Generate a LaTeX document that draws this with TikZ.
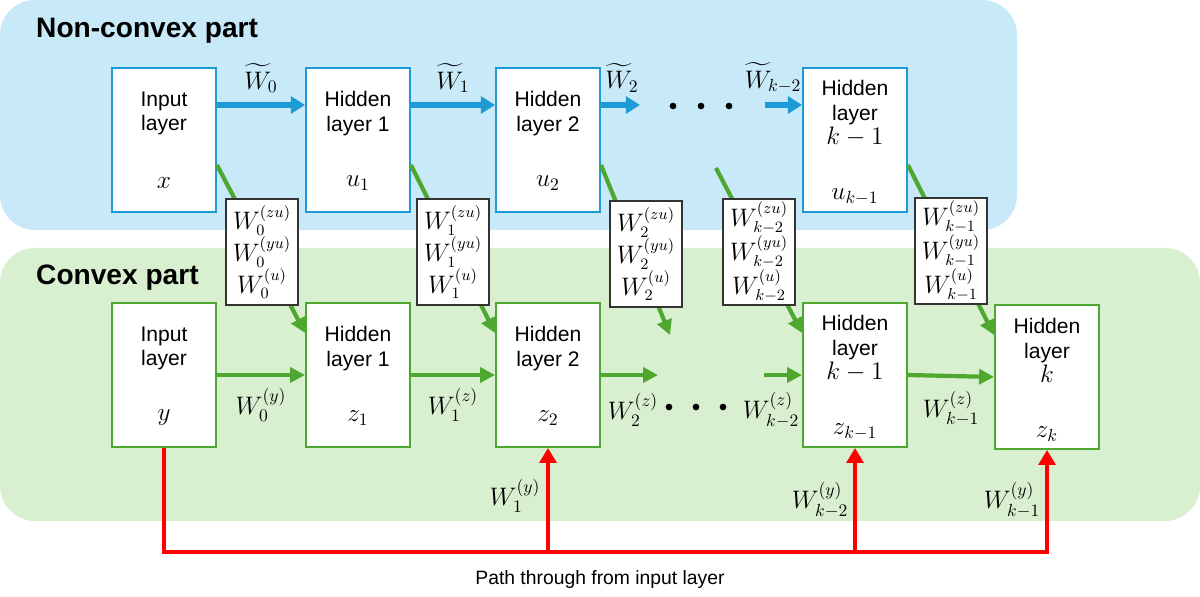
\documentclass[tikz,border=0pt]{standalone}
\usepackage[no-math]{fontspec}
\setmainfont{Liberation Sans}
\usepackage{amsmath}
\usepackage{xcolor}
\usetikzlibrary{arrows.meta, positioning}

\definecolor{panelblue}{RGB}{199,233,248}
\definecolor{nnblue}{RGB}{29,155,215}
\definecolor{panelgreen}{RGB}{217,240,208}
\definecolor{nngreen}{RGB}{78,167,46}

\newcommand{\mvar}[1]{{\fontsize{14}{14}\selectfont$#1$}}

\begin{document}
\begin{tikzpicture}[x=0.02cm, y=-0.02cm,
  layer/.style={draw=#1, fill=white, line width=1.1pt, minimum width=2.08cm, minimum height=2.88cm, inner sep=0pt},
  laytext/.style={font=\fontsize{12}{14}\selectfont, align=center, inner sep=0pt},
  vartext/.style={font=\fontsize{14}{16}\selectfont, inner sep=0pt},
  wbox/.style={draw=black!80, fill=white, line width=0.8pt, minimum width=1.44cm, minimum height=2.12cm, align=center, inner sep=1pt, font=\fontsize{13.5}{18}\selectfont},
  wlabel/.style={font=\fontsize{14}{16}\selectfont},
  blink/.style={draw=nnblue, line width=3.2pt, -{Triangle[length=8pt, width=9.5pt]}},
  glink/.style={draw=nngreen, line width=2.4pt, -{Triangle[length=8.5pt, width=8.5pt]}},
  rlink/.style={draw=red, line width=2.8pt, -{Triangle[length=8.5pt, width=9.5pt]}},
  title/.style={font=\fontsize{16}{19}\selectfont\bfseries, anchor=base west}
]
  \useasboundingbox (0,0) rectangle (1200,597);

  % Panels
  \fill[panelblue, rounded corners=0.7cm] (0,0) rectangle (1017,230);
  \fill[panelgreen, rounded corners=0.7cm] (0,248) rectangle (1200,521);
  \node[title] (nc_title) at (30,38) {Non-convex part};
  \node[title] (c_title) at (30,285) {Convex part};

  % Non-convex layers
  \node[layer=nnblue] (in_u) at (164,140) {};
  \node[layer=nnblue] (h1_u) at (358,140) {};
  \node[layer=nnblue] (h2_u) at (548,140) {};
  \node[layer=nnblue] (hk1_u) at (855,140) {};
  \node[laytext] (in_u_txt) at ([yshift=-0.93cm]in_u.north) {Input\\layer};
  \node[laytext] (h1_u_txt) at ([yshift=-0.93cm]h1_u.north) {Hidden\\layer 1};
  \node[laytext] (h2_u_txt) at ([yshift=-0.93cm]h2_u.north) {Hidden\\layer 2};
  \node[laytext] (hk1_u_txt) at ([yshift=-0.93cm]hk1_u.north) {Hidden\\layer\\\mvar{k-1}};
  \node[vartext] (x_var) at ([yshift=0.6cm]in_u.south) {$x$};
  \node[vartext] (u1_var) at ([yshift=0.6cm]h1_u.south) {$u_1$};
  \node[vartext] (u2_var) at ([yshift=0.6cm]h2_u.south) {$u_2$};
  \node[vartext] (uk1_var) at ([yshift=0.32cm]hk1_u.south) {$u_{k-1}$};

  % Convex layers
  \node[layer=nngreen] (in_z) at (164,375) {};
  \node[layer=nngreen] (h1_z) at (358,375) {};
  \node[layer=nngreen] (h2_z) at (548,375) {};
  \node[layer=nngreen] (hk1_z) at (855,375) {};
  \node[layer=nngreen] (hk_z) at (1047,377) {};
  \node[laytext] (in_z_txt) at ([yshift=-0.93cm]in_z.north) {Input\\layer};
  \node[laytext] (h1_z_txt) at ([yshift=-0.93cm]h1_z.north) {Hidden\\layer 1};
  \node[laytext] (h2_z_txt) at ([yshift=-0.93cm]h2_z.north) {Hidden\\layer 2};
  \node[laytext] (hk1_z_txt) at ([yshift=-0.93cm]hk1_z.north) {Hidden\\layer\\\mvar{k-1}};
  \node[laytext] (hk_z_txt) at ([yshift=-0.93cm]hk_z.north) {Hidden\\layer\\\mvar{k}};
  \node[vartext] (y_var) at ([yshift=0.6cm]in_z.south) {$y$};
  \node[vartext] (z1_var) at ([yshift=0.6cm]h1_z.south) {$z_1$};
  \node[vartext] (z2_var) at ([yshift=0.6cm]h2_z.south) {$z_2$};
  \node[vartext] (zk1_var) at ([yshift=0.32cm]hk1_z.south) {$z_{k-1}$};
  \node[vartext] (zk_var) at ([yshift=0.32cm]hk_z.south) {$z_k$};

  % Non-convex links
  \coordinate (u_end2) at (640,105);
  \coordinate (u_startk) at (765,105);
  \draw[blink] ([yshift=0.7cm]in_u.east) -- node[wlabel, above=2pt] (wt0) {$\widetilde{W}_0$} ([yshift=0.7cm]h1_u.west);
  \draw[blink] ([yshift=0.7cm]h1_u.east) -- node[wlabel, above=2pt] (wt1) {$\widetilde{W}_1$} ([yshift=0.7cm]h2_u.west);
  \draw[blink] ([yshift=0.7cm]h2_u.east) -- (u_end2);
  \draw[blink] (u_startk) -- ([yshift=0.7cm]hk1_u.west);
  \node[wlabel] (wt2) at (622,78) {$\widetilde{W}_2$};
  \node[wlabel] (wtk2) at (773,78) {$\widetilde{W}_{k-2}$};
  \foreach \dx in {673,701,729} \fill (\dx,106) circle (1.9pt);

  % Cross links with weight boxes
  \coordinate (z_end2) at (670,335);
  \coordinate (u_startk2) at (716,168);
  \draw[glink] ([yshift=-0.5cm]in_u.east) -- ([yshift=0.84cm]h1_z.west);
  \draw[glink] ([yshift=-0.5cm]h1_u.east) -- ([yshift=0.84cm]h2_z.west);
  \draw[glink] ([yshift=-0.5cm]h2_u.east) -- (z_end2);
  \draw[glink] (u_startk2) -- ([yshift=0.84cm]hk1_z.west);
  \draw[glink] ([yshift=-0.5cm]hk1_u.east) -- ([yshift=0.84cm]hk_z.west);
  \node[wbox] (w0) at (262,252) {$W_0^{(zu)}$\\$W_0^{(yu)}$\\$W_0^{(u)}$};
  \node[wbox] (w1) at (453,252) {$W_1^{(zu)}$\\$W_1^{(yu)}$\\$W_1^{(u)}$};
  \node[wbox] (w2) at (646,254) {$W_2^{(zu)}$\\$W_2^{(yu)}$\\$W_2^{(u)}$};
  \node[wbox] (wk2) at (759,252) {$W_{k-2}^{(zu)}$\\$W_{k-2}^{(yu)}$\\$W_{k-2}^{(u)}$};
  \node[wbox] (wk1) at (951,251) {$W_{k-1}^{(zu)}$\\$W_{k-1}^{(yu)}$\\$W_{k-1}^{(u)}$};

  % Convex links
  \coordinate (z_endh2) at (658,375);
  \coordinate (z_startk) at (764,375);
  \draw[glink] (in_z) -- node[wlabel, below=3pt] (wy0) {$W_0^{(y)}$} (h1_z);
  \draw[glink] (h1_z) -- node[wlabel, below=3pt] (wz1) {$W_1^{(z)}$} (h2_z);
  \draw[glink] (h2_z) -- (z_endh2);
  \draw[glink] (z_startk) -- (hk1_z);
  \draw[glink] (hk1_z.east) -- node[wlabel, below=4pt] (wzk1) {$W_{k-1}^{(z)}$} (hk_z.west);
  \node[wlabel] (wz2) at (633,410) {$W_2^{(z)}$};
  \node[wlabel] (wzk2) at (771,410) {$W_{k-2}^{(z)}$};
  \foreach \dx in {669,696,723} \fill (\dx,407) circle (1.9pt);

  % Path through from input layer
  \coordinate (bus) at (0,552);
  \draw[rlink] (in_z.south) -- (in_z.south |- bus) -- (hk_z.south |- bus) -- (hk_z.south);
  \draw[rlink] (h2_z.south |- bus) -- (h2_z.south);
  \draw[rlink] (hk1_z.south |- bus) -- (hk1_z.south);
  \node[wlabel] (wy1) at (515,496) {$W_1^{(y)}$};
  \node[wlabel] (wyk2) at (820,500) {$W_{k-2}^{(y)}$};
  \node[wlabel] (wyk1) at (1012,500) {$W_{k-1}^{(y)}$};
  \node[font=\fontsize{11}{13}\selectfont] (path_lbl) at (600,580) {Path through from input layer};
\end{tikzpicture}
\end{document}
